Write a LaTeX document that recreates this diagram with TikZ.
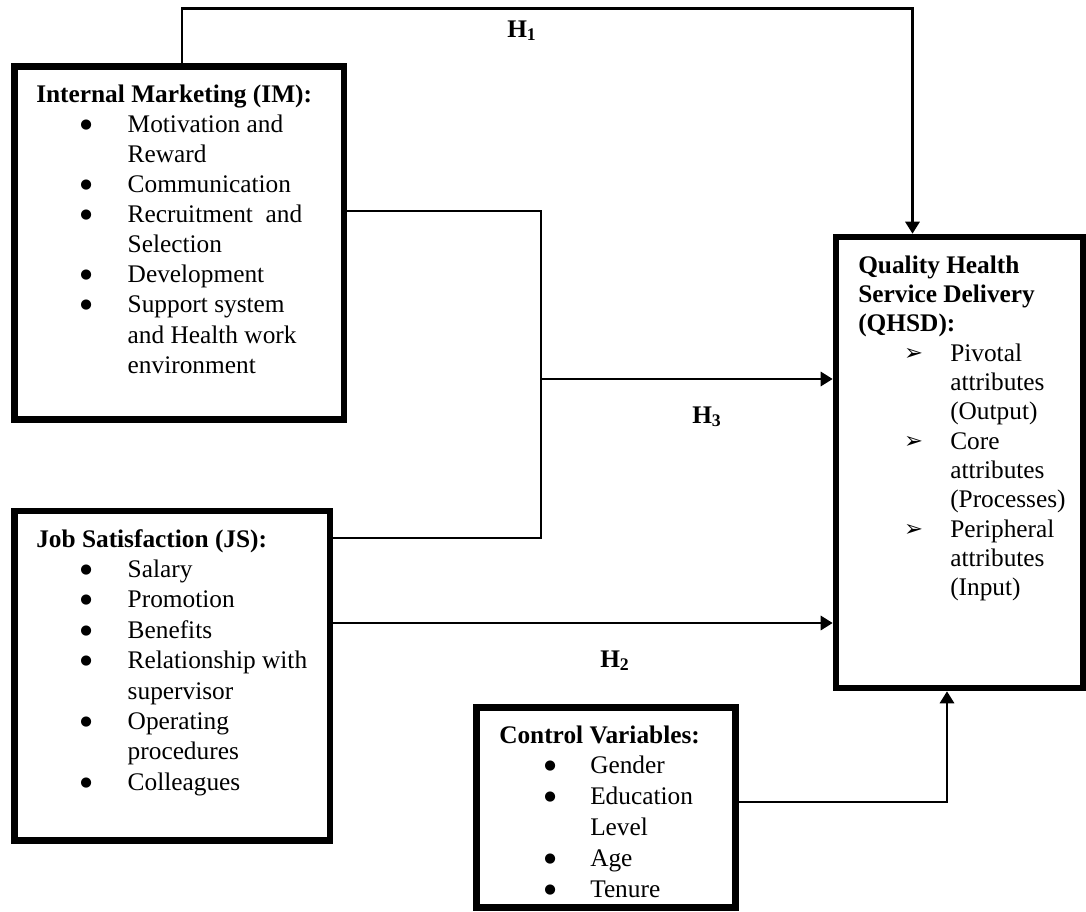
\documentclass[tikz,border=0pt]{standalone}
\usepackage{fontspec}
\setmainfont{Liberation Serif}
\newfontfamily\dejavu{DejaVu Sans}
\usetikzlibrary{arrows.meta}
\newcommand{\itemdot}[2]{\makebox[#2][l]{\hspace*{#1}\makebox[0pt][c]{\raisebox{3pt}{\dejavu\fontsize{10}{10}\selectfont ●}}}}
\newcommand{\arrbul}{\makebox[69pt][l]{\hspace*{41.6pt}\makebox[0pt][c]{\raisebox{0.5pt}{\dejavu\fontsize{17}{17}\selectfont ➢}}}}
\newcommand{\ttl}[1]{\multicolumn{2}{@{}l@{}}{\textbf{#1}}}
\begin{document}
\begin{tikzpicture}[x=0.75pt,y=-0.75pt,
  box/.style={draw=black,line width=4.9pt,rectangle,inner sep=0pt},
  txt/.style={inner sep=0pt,anchor=base west,text=black},
  conn/.style={draw=black,line width=2.2pt},
  arr/.style={-{Triangle[length=9pt,width=10.5pt]}},
  hlab/.style={inner sep=0pt,anchor=base west,font=\fontsize{19}{22}\selectfont\bfseries}]
\useasboundingbox (0,0) rectangle (1086,911);
% boxes
\node[box,minimum width=247.1pt,minimum height=264.75pt] (im) at (179.25,243) {};
\node[box,minimum width=236.6pt,minimum height=247.1pt] (js) at (172.25,675.75) {};
\node[box,minimum width=185.25pt,minimum height=338.25pt] (qhsd) at (959.5,462.5) {};
\node[box,minimum width=194.25pt,minimum height=150pt] (cv) at (606,807.5) {};
% texts
\node[txt] (imtext) at (36,102) {\fontsize{19}{22.6}\selectfont\begin{tabular}[t]{@{}l@{}l@{}}
\ttl{Internal Marketing (IM):}\\
\itemdot{37.5pt}{68.6pt} & Motivation and\\
 & Reward\\
\itemdot{37.5pt}{68.6pt} & Communication\\
\itemdot{37.5pt}{68.6pt} & Recruitment~ and\\
 & Selection\\
\itemdot{37.5pt}{68.6pt} & Development\\
\itemdot{37.5pt}{68.6pt} & Support system\\
 & and Health work\\
 & environment
\end{tabular}};
\node[txt] (jstext) at (36,547) {\fontsize{19}{22.8}\selectfont\begin{tabular}[t]{@{}l@{}l@{}}
\ttl{Job Satisfaction (JS):}\\
\itemdot{37.5pt}{68.6pt} & Salary\\
\itemdot{37.5pt}{68.6pt} & Promotion\\
\itemdot{37.5pt}{68.6pt} & Benefits\\
\itemdot{37.5pt}{68.6pt} & Relationship with\\
 & supervisor\\
\itemdot{37.5pt}{68.6pt} & Operating\\
 & procedures\\
\itemdot{37.5pt}{68.6pt} & Colleagues
\end{tabular}};
\node[txt] (qtext) at (858,273) {\fontsize{19}{22}\selectfont\begin{tabular}[t]{@{}l@{}l@{}}
\ttl{Quality Health}\\
\ttl{Service Delivery}\\
\ttl{(QHSD):}\\
\arrbul & Pivotal\\
 & attributes\\
 & (Output)\\
\arrbul & Core\\
 & attributes\\
 & (Processes)\\
\arrbul & Peripheral\\
 & attributes\\
 & (Input)
\end{tabular}};
\node[txt] (cvtext) at (499,743) {\fontsize{19}{23.1}\selectfont\begin{tabular}[t]{@{}l@{}l@{}}
\ttl{Control Variables:}\\
\itemdot{38.25pt}{68.25pt} & Gender\\
\itemdot{38.25pt}{68.25pt} & Education\\
 & Level\\
\itemdot{38.25pt}{68.25pt} & Age\\
\itemdot{38.25pt}{68.25pt} & Tenure
\end{tabular}};
% hypothesis labels
\node[hlab] (h1lab) at (507,37) {H\textsubscript{1}};
\node[hlab] (h3lab) at (692,423) {H\textsubscript{3}};
\node[hlab] (h2lab) at (600,667) {H\textsubscript{2}};
% connector coordinates
\coordinate (h1l) at (182,8.5);
\coordinate (h1r) at (912.5,8.5);
\coordinate (h3t) at (541,211);
\coordinate (h3b) at (541,538);
\coordinate (h3m) at (541,379);
\coordinate (h2y) at (541,623);
\coordinate (cvc) at (947,802);
% connectors
\draw[conn,arr] (h1l |- im.north) -- (h1l) -- (h1r) -- (h1r |- qhsd.north);
\draw[conn] (im.east |- h3t) -- (h3t) -- (h3b) -- (js.east |- h3b);
\draw[conn,arr] (h3m) -- (qhsd.west |- h3m);
\draw[conn,arr] (js.east |- h2y) -- (qhsd.west |- h2y);
\draw[conn,arr] (cv.east |- cvc) -- (cvc) -- (qhsd.south -| cvc);
\end{tikzpicture}
\end{document}
